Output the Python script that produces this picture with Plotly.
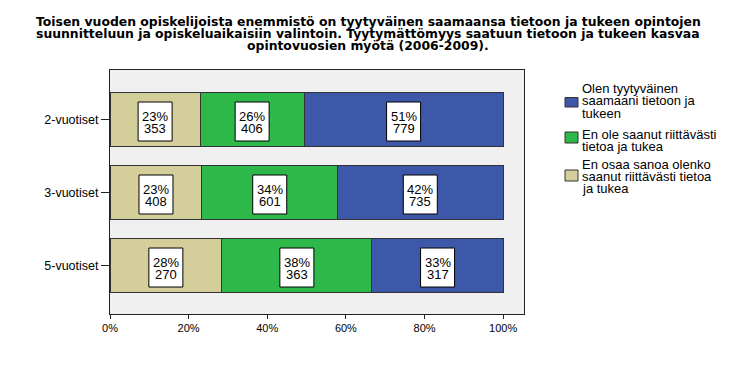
import plotly.graph_objects as go

# ---- data ----
categories = ["2-vuotiset", "3-vuotiset", "5-vuotiset"]
series_names = [
    "En osaa sanoa olenko saanut riittävästi tietoa ja tukea",
    "En ole saanut riittävästi tietoa ja tukea",
    "Olen tyytyväinen saamaani tietoon ja tukeen",
]
eos = [353, 408, 270]     # En osaa sanoa
eole = [406, 601, 363]    # En ole saanut
tyyt = [779, 735, 317]    # Olen tyytyväinen
tick_vals = [0, 20, 40, 60, 80, 100]
tick_text = ["0%", "20%", "40%", "60%", "80%", "100%"]
title_lines = [
    "Toisen vuoden opiskelijoista enemmistö on tyytyväinen saamaansa tietoon ja tukeen opintojen",
    "suunnitteluun ja opiskeluaikaisiin valintoin. Tyytymättömyys saatuun tietoon ja tukeen kasvaa",
    "opintovuosien myötä (2006-2009).",
]
legend_lines = [  # in legend order (top to bottom)
    ["Olen tyytyväinen", "saamaani tietoon ja", "tukeen"],
    ["En ole saanut riittävästi", "tietoa ja tukea"],
    ["En osaa sanoa olenko", "saanut riittävästi tietoa", "ja tukea"],
]

# ---- styles ----
colors = ["#D4CF9A", "#2EB84A", "#3D57A9"]
legend_colors = [colors[2], colors[1], colors[0]]
FONT = "Liberation Sans, Arial, sans-serif"
TFONT = "DejaVu Sans, Verdana, sans-serif"
PAGE_W, PAGE_H, OFF = 740, 372, 8   # browser body margin compensation
W, H = PAGE_W - OFF, PAGE_H - OFF
L, R, T, B = 110, 524, 70, 314      # plot area in page pixels


def px(x):
    return (x - L) / (R - L)


def py(y):
    return (B - y) / (B - T)


series = [eos, eole, tyyt]

fig = go.Figure()
for name, vals, col in zip(series_names, series, colors):
    fig.add_trace(go.Bar(
        y=categories, x=vals, name=name, orientation="h",
        marker=dict(color=col, line=dict(color="#333333", width=1)),
        width=0.75, hoverinfo="skip", showlegend=False,
    ))

annotations = []
shapes = []
for i, cat in enumerate(categories):
    total = sum(s[i] for s in series)
    cum = 0.0
    for s in series:
        p = s[i] / total * 100
        xc = cum + p / 2
        shapes.append(dict(
            type="rect", xref="x", yref="y",
            xsizemode="pixel", xanchor=xc, x0=-17, x1=17,
            ysizemode="pixel", yanchor=i, y0=-21.5, y1=17.5,
            fillcolor="white", line=dict(color="black", width=1), layer="above",
        ))
        annotations.append(dict(
            x=xc, y=cat, xref="x", yref="y", text=f"{round(p)}%",
            showarrow=False, yshift=3.5, font=dict(family=FONT, size=13, color="black"),
        ))
        annotations.append(dict(
            x=xc, y=cat, xref="x", yref="y", text=f"{s[i]}",
            showarrow=False, yshift=-8.5, font=dict(family=FONT, size=13, color="black"),
        ))
        cum += p

# title (three lines, tight leading)
for line, yc in zip(title_lines, [21, 33.5, 46]):
    annotations.append(dict(
        x=px(368), y=py(yc), xref="paper", yref="paper", text=f"<b>{line}</b>",
        showarrow=False, xanchor="center", yanchor="middle",
        font=dict(family=TFONT, size=12.4, color="black"),
    ))

# manual legend
line_centers = [[88, 100.5, 113], [134, 146], [164, 176, 188]]
swatch_y = [(97.5, 107), (132, 143), (170, 181)]
for lines, centers, (y0, y1), col in zip(legend_lines, line_centers, swatch_y, legend_colors):
    shapes.append(dict(
        type="rect", xref="paper", yref="paper",
        x0=px(565), x1=px(578), y0=py(y1), y1=py(y0),
        fillcolor=col, line=dict(color="#333333", width=1), layer="above",
    ))
    for ln, yc in zip(lines, centers):
        annotations.append(dict(
            x=px(580), y=py(yc), xref="paper", yref="paper", text=ln,
            showarrow=False, xanchor="left", yanchor="middle",
            font=dict(family=FONT, size=13, color="black"),
        ))

fig.update_layout(
    barmode="stack", barnorm="percent",
    width=W, height=H,
    margin=dict(l=L - OFF, r=PAGE_W - R, t=T - OFF, b=PAGE_H - B, autoexpand=False),
    paper_bgcolor="white", plot_bgcolor="#F0F0F0",
    font=dict(family=FONT, size=12, color="black"),
    xaxis=dict(range=[0, 105.3], tickvals=tick_vals, ticktext=tick_text,
               showgrid=False, zeroline=False, showline=True, linecolor="#222222",
               mirror=True, ticks="outside", ticklen=4, tickcolor="#222222",
               tickfont=dict(size=11)),
    yaxis=dict(range=[2.664, -0.678], showgrid=False, zeroline=False,
               showline=True, linecolor="#222222", mirror=True,
               ticks="outside", ticklen=8, tickcolor="#222222",
               tickfont=dict(size=12.5)),
    annotations=annotations,
    shapes=shapes,
    showlegend=False,
)

fig.write_html("out.html")
